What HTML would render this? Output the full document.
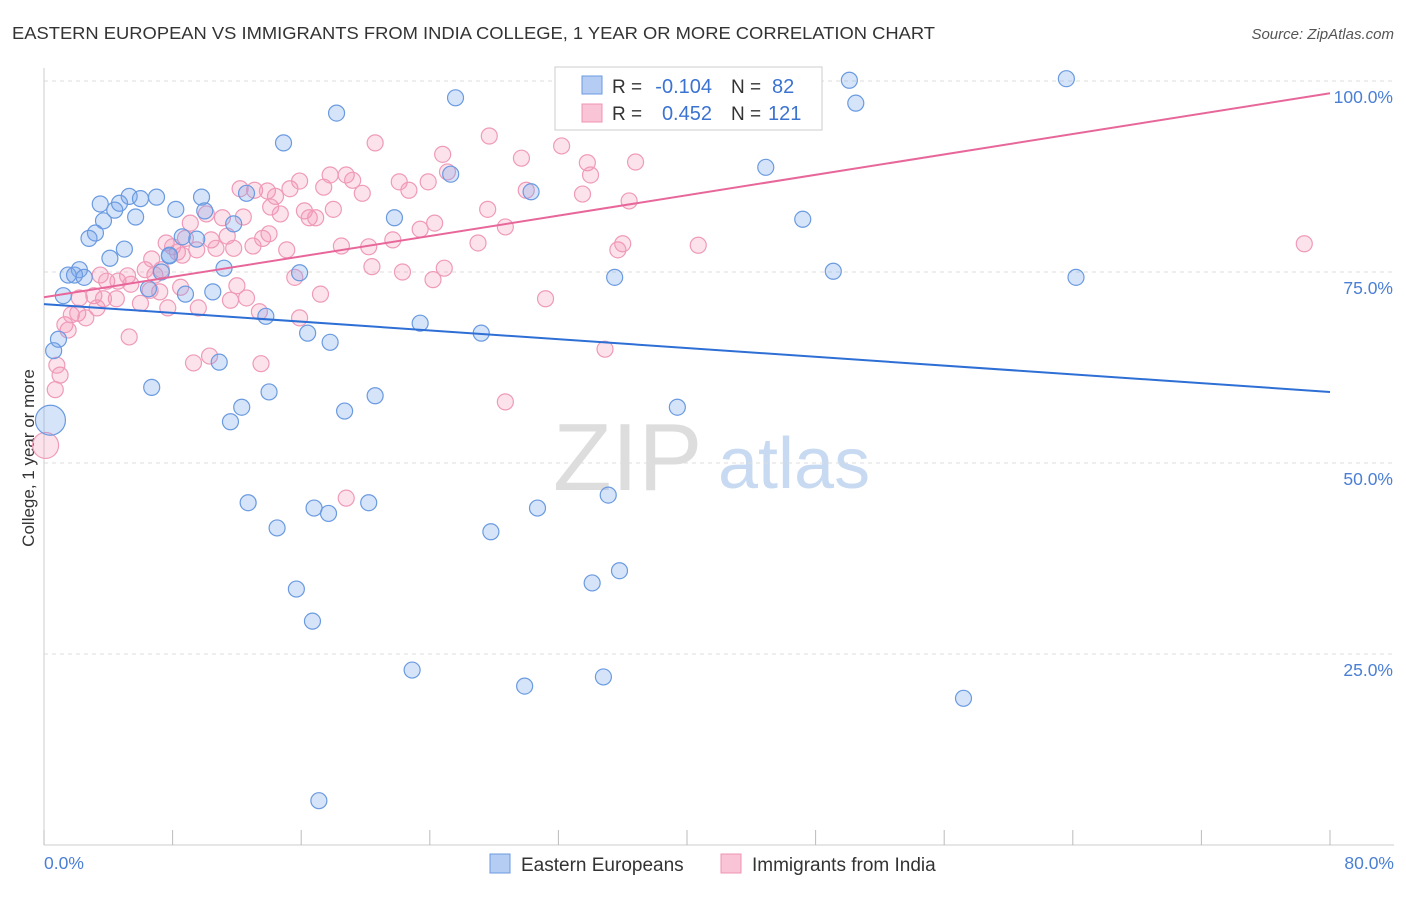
<!DOCTYPE html>
<html><head><meta charset="utf-8">
<style>
body{margin:0;background:#fff;font-family:"Liberation Sans",sans-serif;}
svg text{font-family:"Liberation Sans",sans-serif;}
</style></head>
<body>
<svg id="chart" width="1406" height="892" xmlns="http://www.w3.org/2000/svg">
<text x="12" y="39" font-size="17.5" fill="#333" textLength="923" lengthAdjust="spacingAndGlyphs">EASTERN EUROPEAN VS IMMIGRANTS FROM INDIA COLLEGE, 1 YEAR OR MORE CORRELATION CHART</text>
<text x="1394" y="39" font-size="15" fill="#555" text-anchor="end" font-style="italic">Source: ZipAtlas.com</text>
<text transform="translate(34,458) rotate(-90)" font-size="17" fill="#333" text-anchor="middle">College, 1 year or more</text>
<g>
<text x="553" y="490" font-size="96" fill="#ddd" font-family="Liberation Serif">ZIP</text>
<text x="718" y="488" font-size="72" fill="#c8daf2">atlas</text>
</g>
<g id="grid"></g>
<g id="pts"></g>
<g id="lines"></g>
<g>
<rect x="555" y="67" width="267" height="63" fill="#fff" stroke="#ccc"/>
<rect x="582" y="76" width="20" height="18" fill="#b5cdf2" stroke="#6a9ae0"/>
<rect x="582" y="104" width="20" height="18" fill="#f9c4d5" stroke="#ef93b3"/>
<text x="612" y="93" font-size="19" fill="#333">R =</text>
<text x="712" y="93" font-size="20" fill="#3b73d1" text-anchor="end">-0.104</text>
<text x="731" y="93" font-size="19" fill="#333">N =</text>
<text x="772" y="93" font-size="20" fill="#3b73d1">82</text>
<text x="612" y="120" font-size="19" fill="#333">R =</text>
<text x="712" y="120" font-size="20" fill="#3b73d1" text-anchor="end">0.452</text>
<text x="731" y="120" font-size="19" fill="#333">N =</text>
<text x="768" y="120" font-size="20" fill="#3b73d1">121</text>
</g>
<g>
<rect x="490" y="854" width="20" height="19" fill="#b5cdf2" stroke="#6a9ae0"/>
<text x="521" y="871" font-size="19" fill="#333">Eastern Europeans</text>
<rect x="721" y="854" width="20" height="19" fill="#f9c4d5" stroke="#ef93b3"/>
<text x="752" y="871" font-size="19" fill="#333">Immigrants from India</text>
</g>
</svg>
<script>
const xTicks=[0,8,16,24,32,40,48,56,64,72,80];
const yTicks=[25,50,75,100];
const yTickLabels=["25.0%","50.0%","75.0%","100.0%"];
const xEndLabels=["0.0%","80.0%"];
const blueX=[50.1,63.6,25.6,50.5,18.2,14.9,44.9,25.3,30.3,5.3,7.0,6.0,9.8,3.5,12.6,4.4,4.7,8.2,10.0,3.7,5.7,11.8,21.8,47.2,3.2,2.8,8.6,9.5,5.0,7.8,4.1,11.2,2.2,1.5,1.9,2.5,15.9,7.3,49.1,64.2,35.5,6.5,8.8,10.5,1.2,13.8,23.4,27.2,16.4,17.8,0.9,0.6,0.4,6.7,10.9,14.0,20.6,12.3,18.7,11.6,39.4,12.7,16.8,17.7,20.2,30.7,35.1,14.5,27.8,15.7,34.1,35.8,16.7,22.9,29.9,34.8,57.2,17.1,7.8];
const blueY=[100.1,100.3,97.8,97.1,95.8,91.9,88.7,87.8,85.5,84.9,84.8,84.6,84.8,83.9,85.3,83.1,84.0,83.2,83.0,81.7,82.2,81.3,82.1,81.9,80.1,79.4,79.6,79.3,78.0,77.1,76.8,75.5,75.3,74.6,74.6,74.3,74.9,75.0,75.1,74.3,74.3,72.8,72.1,72.4,71.9,69.2,68.3,67.0,67.0,65.8,66.2,64.7,55.6,59.9,63.2,59.3,58.8,57.3,56.8,55.4,57.3,44.8,44.1,43.4,44.8,44.1,45.8,41.5,41.0,33.5,34.3,35.9,29.3,22.9,20.8,22.0,19.2,5.8,77.2];
const pinkX=[0.1,0.7,1.0,0.8,1.5,1.3,1.7,2.1,2.6,2.2,3.1,3.3,3.5,3.9,3.7,4.5,4.6,5.2,5.4,6.0,5.3,6.3,6.7,6.9,7.3,7.6,8.0,8.3,8.6,7.2,7.7,8.5,9.3,9.6,10.3,9.1,10.1,10.4,10.7,11.1,11.4,12.4,12.2,13.1,13.9,14.4,14.1,14.7,15.3,15.9,14.0,13.0,11.8,11.6,12.6,12.0,13.4,13.5,15.1,15.6,15.9,16.2,16.5,16.9,17.2,17.4,17.8,18.0,18.5,18.8,19.2,19.8,20.6,20.2,20.4,21.7,22.1,22.7,22.3,23.4,23.9,24.3,24.8,25.1,24.9,24.2,27.0,27.6,27.7,28.7,28.7,29.7,30.0,31.2,32.2,33.5,33.8,34.0,35.7,36.0,34.9,36.4,36.8,40.7,78.4,18.8,13.6,8.8,9.5,6.6];
const pinkY=[52.3,59.6,61.5,62.8,67.4,68.1,69.4,69.6,69.0,71.6,71.9,70.3,74.6,73.8,71.5,71.5,73.8,74.5,73.4,70.9,66.5,75.3,76.7,74.6,75.3,78.8,78.3,77.6,77.2,72.4,70.3,73.0,63.1,70.3,64.0,81.4,82.6,79.2,78.1,82.1,79.7,82.2,85.9,85.7,85.6,84.9,83.5,82.6,85.9,86.9,80.0,78.4,78.1,71.3,71.6,73.2,69.8,63.0,77.9,74.3,69.0,83.0,82.1,82.1,72.1,86.1,87.7,83.2,78.4,87.7,87.0,85.3,91.9,78.3,75.7,79.2,86.8,85.7,75.0,80.6,86.8,81.4,90.4,88.1,75.5,74.0,78.8,83.2,92.8,80.9,58.0,89.9,85.7,71.5,91.5,85.2,89.3,87.7,77.9,78.7,64.9,84.3,89.4,78.5,78.7,45.4,79.4,79.4,77.9,72.6];
const blueLine=[70.8,59.3];
const pinkLine=[71.7,98.4];
const bigBlue=52, bigPink=0;

const X=v=>44+v*(1330-44)/80;
const Y=v=>845-v*(845-81)/100;
const NS="http://www.w3.org/2000/svg";
function mk(t,a,p){const e=document.createElementNS(NS,t);for(const k in a)e.setAttribute(k,a[k]);p.appendChild(e);return e;}
const grid=document.getElementById('grid');
yTicks.forEach((t,i)=>{
  const l=mk('line',{x1:44,x2:1394,y1:Y(t),y2:Y(t),stroke:'#ddd','stroke-dasharray':'4,4'},grid);
  
  
  const tx=mk('text',{x:1393,y:Y(t)+22,'font-size':17.5,fill:'#4a7fd4','text-anchor':'end'},grid);
  tx.textContent=yTickLabels[i];
  
  
});
const ax=mk('line',{x1:44,x2:44,y1:68,y2:845,stroke:'#ccc'},grid);


const bx=mk('line',{x1:44,x2:1394,y1:845,y2:845,stroke:'#ccc'},grid);


xTicks.forEach(t=>{
  const l=mk('line',{x1:X(t),x2:X(t),y1:830,y2:845,stroke:'#bbb'},grid);
  
  
});
[[0,'start',44],[80,'end',1394]].forEach((d,i)=>{
  const tx=mk('text',{x:d[2],y:869,'font-size':17.5,fill:'#4a7fd4','text-anchor':d[1]},grid);
  tx.textContent=xEndLabels[i];
  
  
});
const pts=document.getElementById('pts');
pinkX.forEach((x,i)=>{
  const c=mk('circle',{cx:X(x),cy:Y(pinkY[i]),r:i===bigPink?13:8,fill:'rgba(244,143,177,0.25)',stroke:'#ef9ab9','stroke-width':1.2},pts);
  
  
});
blueX.forEach((x,i)=>{
  const c=mk('circle',{cx:X(x),cy:Y(blueY[i]),r:i===bigBlue?15:8,fill:'rgba(120,165,235,0.3)',stroke:'#6a9ae0','stroke-width':1.2},pts);
  
  
});
const lines=document.getElementById('lines');
const b=mk('line',{x1:X(0),y1:Y(blueLine[0]),x2:X(80),y2:Y(blueLine[1]),stroke:'#2e6fd6','stroke-width':2},lines);


const p=mk('line',{x1:X(0),y1:Y(pinkLine[0]),x2:X(80),y2:Y(pinkLine[1]),stroke:'#e8679a','stroke-width':2},lines);


</script>
</body></html>
